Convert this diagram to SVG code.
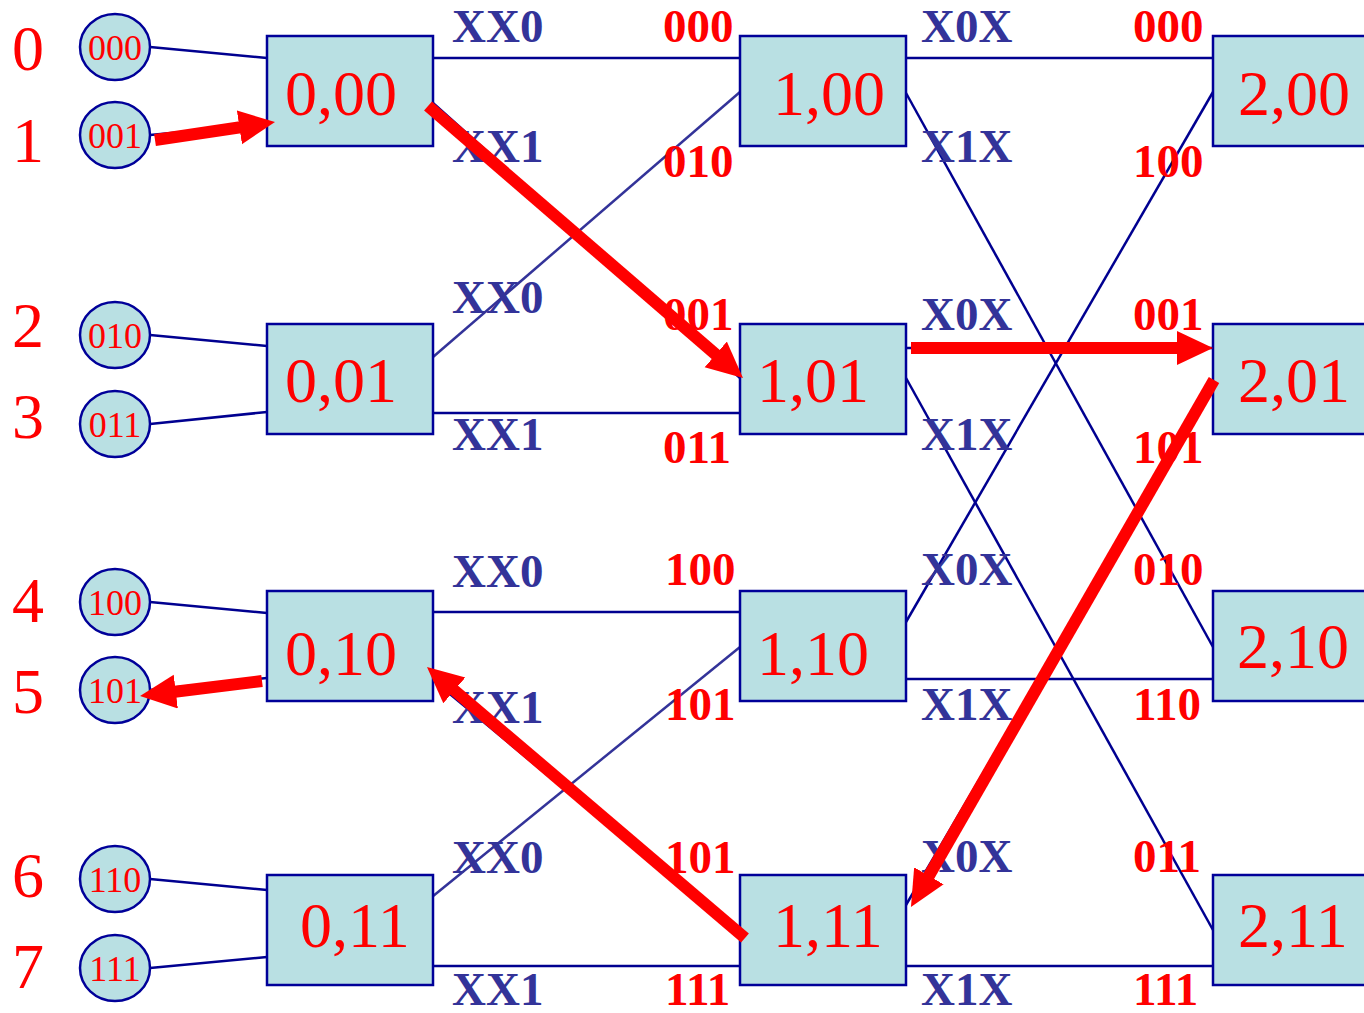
<svg xmlns="http://www.w3.org/2000/svg" width="1364" height="1013" viewBox="0 0 1364 1013">
<style>
.box{fill:#B9E0E3;stroke:#000099;stroke-width:2.5}
.cir{fill:#B9E0E3;stroke:#000099;stroke-width:2.5}
.ln{stroke:#000090;stroke-width:2.5;fill:none}
.ln2{stroke:#333399;stroke-width:2.5;fill:none}
.ar{stroke:#FF0000;stroke-width:12;fill:none;marker-end:url(#ah)}
.num{font-family:"Liberation Serif",serif;font-size:64px;fill:#FF0000}
.bl{font-family:"Liberation Serif",serif;font-size:64px;fill:#FF0000}
.cl{font-family:"Liberation Serif",serif;font-size:36px;fill:#FF0000;text-anchor:middle}
.el{font-family:"Liberation Serif",serif;font-size:47px;font-weight:bold;fill:#333399}
.rl{font-family:"Liberation Serif",serif;font-size:47px;font-weight:bold;fill:#FF0000}
</style>
<defs>
<marker id="ah" markerUnits="userSpaceOnUse" markerWidth="40" markerHeight="36" refX="1" refY="17" orient="auto">
<path d="M0,0 L36,17 L0,34 z" fill="#FF0000"/>
</marker>
</defs>

<g id="connectors">
<line class="ln" x1="150" y1="47" x2="267" y2="58"/>
<line class="ln" x1="150" y1="135" x2="267" y2="124"/>
<line class="ln" x1="150" y1="335" x2="267" y2="346"/>
<line class="ln" x1="150" y1="424" x2="267" y2="412"/>
<line class="ln" x1="150" y1="602" x2="267" y2="613"/>
<line class="ln" x1="150" y1="690" x2="267" y2="678"/>
<line class="ln" x1="150" y1="879" x2="267" y2="890"/>
<line class="ln" x1="150" y1="968" x2="267" y2="957"/>

<line class="ln" x1="433" y1="58" x2="740" y2="58"/>
<line class="ln" x1="433" y1="103" x2="740" y2="378"/>
<line class="ln2" x1="433" y1="357" x2="740" y2="92"/>
<line class="ln" x1="433" y1="413" x2="740" y2="413"/>
<line class="ln" x1="433" y1="612" x2="740" y2="612"/>
<line class="ln" x1="433" y1="680" x2="740" y2="935"/>
<line class="ln2" x1="427" y1="901" x2="740" y2="647"/>
<line class="ln" x1="433" y1="966" x2="740" y2="966"/>

<line class="ln" x1="906" y1="58" x2="1213" y2="58"/>
<line class="ln" x1="906" y1="93" x2="1213" y2="647"/>
<line class="ln" x1="906" y1="348" x2="1213" y2="348"/>
<line class="ln" x1="906" y1="378" x2="1213" y2="930"/>
<line class="ln" x1="906" y1="622" x2="1213" y2="92"/>
<line class="ln" x1="906" y1="679" x2="1213" y2="679"/>
<line class="ln" x1="906" y1="905" x2="1213" y2="380"/>
<line class="ln" x1="906" y1="966" x2="1213" y2="966"/>
</g>

<g id="n000"><ellipse class="cir" cx="115" cy="47" rx="35" ry="33"/><text class="cl" x="115" y="60">000</text></g>
<g id="n001"><ellipse class="cir" cx="115" cy="135" rx="35" ry="33"/><text class="cl" x="115" y="148">001</text></g>
<g id="n010"><ellipse class="cir" cx="115" cy="335" rx="35" ry="33"/><text class="cl" x="115" y="348">010</text></g>
<g id="n011"><ellipse class="cir" cx="115" cy="424" rx="35" ry="33"/><text class="cl" x="115" y="437">011</text></g>
<g id="n100"><ellipse class="cir" cx="115" cy="602" rx="35" ry="33"/><text class="cl" x="115" y="615">100</text></g>
<g id="n101"><ellipse class="cir" cx="115" cy="690" rx="35" ry="33"/><text class="cl" x="115" y="703">101</text></g>
<g id="n110"><ellipse class="cir" cx="115" cy="879" rx="35" ry="33"/><text class="cl" x="115" y="892">110</text></g>
<g id="n111"><ellipse class="cir" cx="115" cy="968" rx="35" ry="33"/><text class="cl" x="115" y="981">111</text></g>

<g id="nums">
<text class="num" x="12" y="70">0</text>
<text class="num" x="12" y="162">1</text>
<text class="num" x="12" y="347">2</text>
<text class="num" x="12" y="438">3</text>
<text class="num" x="12" y="622">4</text>
<text class="num" x="12" y="713">5</text>
<text class="num" x="12" y="897">6</text>
<text class="num" x="12" y="988">7</text>
</g>

<g id="b000"><rect class="box" x="267" y="36" width="166" height="110"/><text class="bl" x="285" y="115">0,00</text></g>
<g id="b001"><rect class="box" x="267" y="324" width="166" height="110"/><text class="bl" x="285" y="402">0,01</text></g>
<g id="b010"><rect class="box" x="267" y="591" width="166" height="110"/><text class="bl" x="285" y="675">0,10</text></g>
<g id="b011"><rect class="box" x="267" y="875" width="166" height="110"/><text class="bl" x="300" y="947">0,11</text></g>
<g id="b100"><rect class="box" x="740" y="36" width="166" height="110"/><text class="bl" x="773" y="115">1,00</text></g>
<g id="b101"><rect class="box" x="740" y="324" width="166" height="110"/><text class="bl" x="757" y="402">1,01</text></g>
<g id="b110"><rect class="box" x="740" y="591" width="166" height="110"/><text class="bl" x="757" y="675">1,10</text></g>
<g id="b111"><rect class="box" x="740" y="875" width="166" height="110"/><text class="bl" x="773" y="947">1,11</text></g>
<g id="b200"><rect class="box" x="1213" y="36" width="166" height="110"/><text class="bl" x="1238" y="115">2,00</text></g>
<g id="b201"><rect class="box" x="1213" y="324" width="166" height="110"/><text class="bl" x="1238" y="402">2,01</text></g>
<g id="b210"><rect class="box" x="1213" y="591" width="166" height="110"/><text class="bl" x="1237" y="668">2,10</text></g>
<g id="b211"><rect class="box" x="1213" y="875" width="166" height="110"/><text class="bl" x="1238" y="947">2,11</text></g>

<g id="edge-labels">
<text class="el" x="452" y="42">XX0</text>
<text class="el" x="452" y="162">XX1</text>
<text class="el" x="452" y="313">XX0</text>
<text class="el" x="452" y="450">XX1</text>
<text class="el" x="452" y="587">XX0</text>
<text class="el" x="452" y="723">XX1</text>
<text class="el" x="452" y="873">XX0</text>
<text class="el" x="452" y="1005">XX1</text>
<text class="rl" x="663" y="42">000</text>
<text class="rl" x="663" y="177">010</text>
<text class="rl" x="663" y="330">001</text>
<text class="rl" x="663" y="463">011</text>
<text class="rl" x="665" y="585">100</text>
<text class="rl" x="665" y="720">101</text>
<text class="rl" x="665" y="873">101</text>
<text class="rl" x="665" y="1005">111</text>

<text class="el" x="921" y="42">X0X</text>
<text class="el" x="921" y="162">X1X</text>
<text class="el" x="921" y="330">X0X</text>
<text class="el" x="921" y="450">X1X</text>
<text class="el" x="921" y="585">X0X</text>
<text class="el" x="921" y="720">X1X</text>
<text class="el" x="921" y="872">X0X</text>
<text class="el" x="921" y="1005">X1X</text>
<text class="rl" x="1133" y="42">000</text>
<text class="rl" x="1133" y="177">100</text>
<text class="rl" x="1133" y="330">001</text>
<text class="rl" x="1133" y="463">101</text>
<text class="rl" x="1133" y="585">010</text>
<text class="rl" x="1133" y="720">110</text>
<text class="rl" x="1133" y="872">011</text>
<text class="rl" x="1133" y="1005">111</text>
</g>

<g id="route">
<line class="ar" x1="155" y1="140" x2="240.4" y2="127.2"/>
<line class="ar" x1="428" y1="106" x2="716.5" y2="355.1"/>
<line class="ar" x1="911" y1="348" x2="1178" y2="348"/>
<line class="ar" x1="1214" y1="380" x2="928.4" y2="876.7"/>
<line class="ar" x1="745" y1="938" x2="453.6" y2="689.7"/>
<line class="ar" x1="262" y1="681" x2="174.8" y2="691.7"/>
</g>
</svg>
